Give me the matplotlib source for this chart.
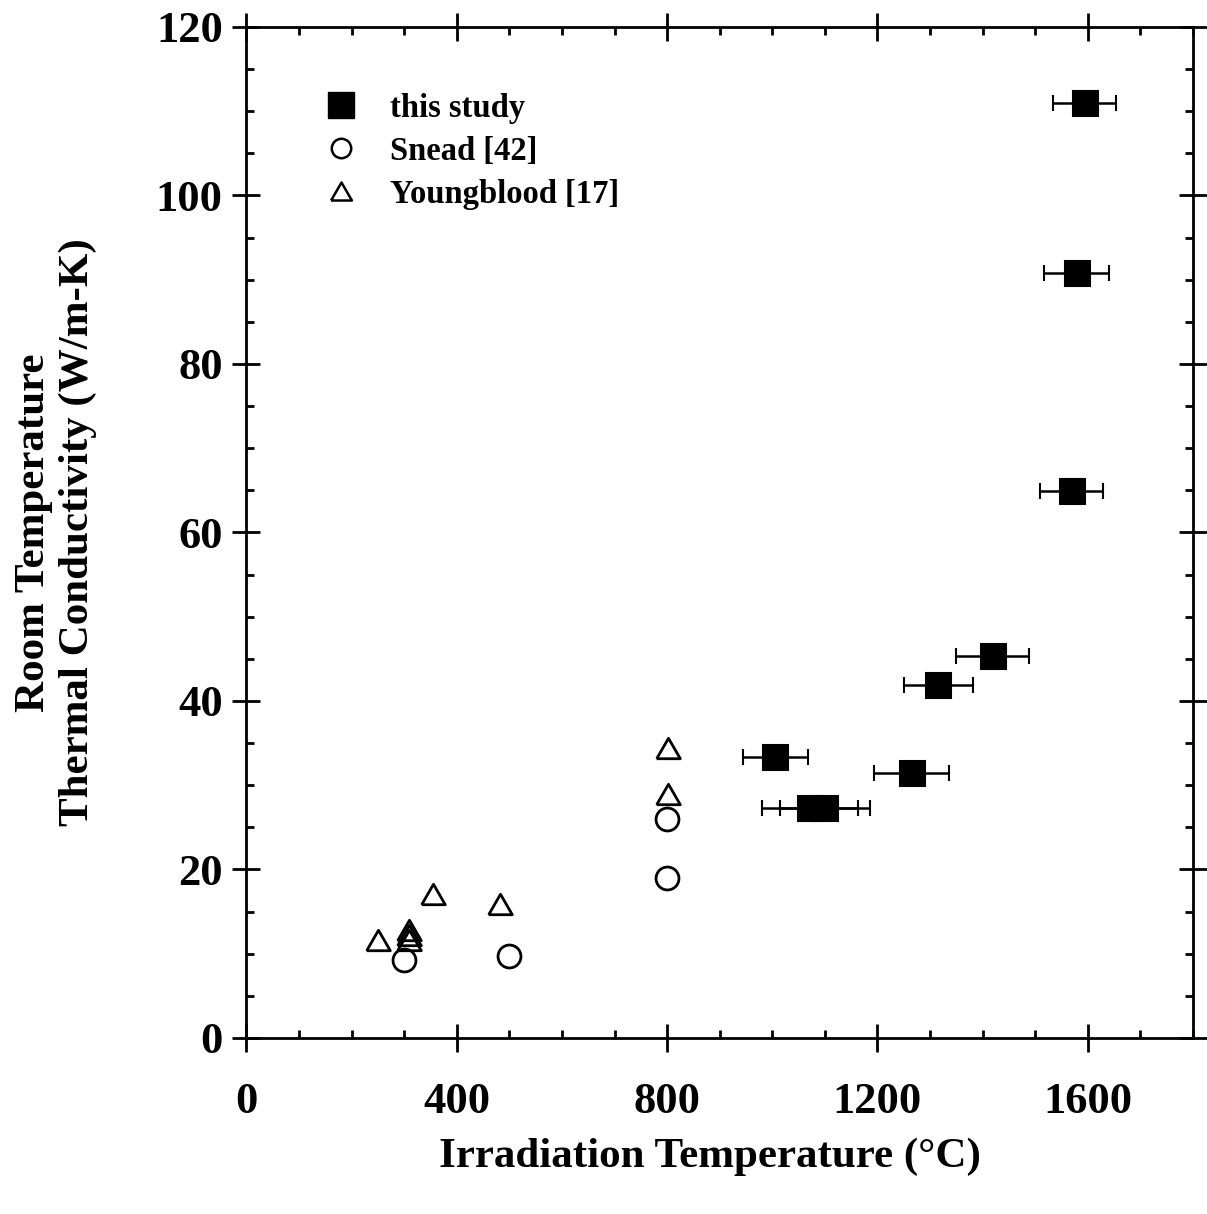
import matplotlib
matplotlib.use('Agg')
import matplotlib.pyplot as plt
from matplotlib.lines import Line2D
from matplotlib.ticker import MultipleLocator

# this study (filled squares, x error bars)
study_t = [1594, 1579, 1569, 1419, 1316, 1006, 1265, 1071, 1100]
study_k = [111.0, 90.8, 64.9, 45.3, 41.9, 33.4, 31.5, 27.3, 27.3]
study_terr = [60, 62, 60, 70, 65, 61, 71, 91, 85]

# Snead [42]
snead_t = [300, 500, 800, 800]
snead_k = [9.2, 9.7, 19.0, 26.0]

# Youngblood [17]
young_t = [250, 309, 309, 309, 355, 482, 801, 801]
young_k = [11.6, 12.8, 12.2, 11.6, 17.1, 15.9, 29.0, 34.4]

plt.rcParams['font.family'] = ['Liberation Serif', 'DejaVu Serif']
plt.rcParams['font.weight'] = 'bold'

# equilateral triangle marker
tri = [(-0.5, -0.433), (0.5, -0.433), (0, 0.433), (-0.5, -0.433)]

fig = plt.figure(figsize=(12.07, 12.14), dpi=100)
ax = fig.add_axes([0.2042, 0.145, 0.7842, 0.8328])

ax.errorbar(study_t, study_k, xerr=study_terr, fmt='s', color='black',
            ms=18, mew=1.5, elinewidth=1.8, capsize=6, capthick=1.8, zorder=3)
ax.plot(snead_t, snead_k, 'o', mfc='white', mec='black', ms=16.5, mew=2,
        linestyle='none', zorder=2)
ax.plot(young_t, young_k, marker=tri, mfc='none', mec='black', ms=17, mew=2,
        linestyle='none', zorder=2)

ax.set_xlim(0, 1800)
ax.set_ylim(0, 120)
ax.xaxis.set_major_locator(MultipleLocator(400))
ax.xaxis.set_minor_locator(MultipleLocator(100))
ax.yaxis.set_major_locator(MultipleLocator(20))
ax.yaxis.set_minor_locator(MultipleLocator(5))

for sp in ax.spines.values():
    sp.set_linewidth(2)

ax.tick_params(which='major', direction='inout', length=20, width=2,
               top=True, right=True, labelsize=32)
ax.tick_params(which='minor', direction='in', length=6, width=2,
               top=True, right=True)
ax.tick_params(axis='x', which='major', pad=22)
ax.tick_params(axis='y', which='major', pad=7)
for lab in ax.get_xticklabels() + ax.get_yticklabels():
    lab.set_fontweight('bold')

ax.set_xlabel('Irradiation Temperature (°C)', fontsize=31, fontweight='bold')
ax.xaxis.set_label_coords(0.49, -0.098)
ax.set_ylabel('Room Temperature\nThermal Conductivity (W/m-K)', fontsize=31,
              fontweight='bold', multialignment='center')
ax.yaxis.set_label_coords(-0.158, 0.5)

handles = [
    Line2D([], [], marker='s', color='black', ms=19, linestyle='none'),
    Line2D([], [], marker='o', mfc='white', mec='black', ms=14, mew=1.8,
           linestyle='none'),
    Line2D([], [], marker=tri, mfc='none', mec='black', ms=15, mew=1.8,
           linestyle='none'),
]
ax.legend(handles, ['this study', 'Snead [42]', 'Youngblood [17]'],
          loc='upper left', bbox_to_anchor=(0.043, 0.964), frameon=False,
          prop={'size': 23.5, 'weight': 'bold'}, handletextpad=0.75,
          labelspacing=0.37, handlelength=1.5)

plt.savefig('out.png', dpi=100)
